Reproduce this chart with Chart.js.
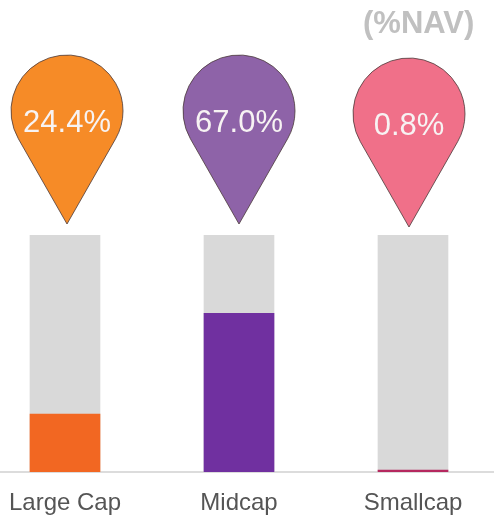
<!DOCTYPE html>
<html>
<head>
<meta charset="utf-8">
<script src="https://cdn.jsdelivr.net/npm/chart.js@4/dist/chart.umd.min.js"></script>
<style>
html,body{margin:0;padding:0;background:#fff;}
#wrap{position:relative;width:494px;height:517px;}
#title{position:absolute;left:363px;top:5px;font:bold 31px "Liberation Sans",Arial,sans-serif;color:#c0c0c0;}
</style>
</head>
<body>
<div id="wrap"><canvas id="c" width="494" height="517"></canvas><div id="title">(%NAV)</div></div>
<script>
const categories = ['Large Cap', 'Midcap', 'Smallcap'];
const values = [24.4, 67.0, 0.8];
const valueLabels = ['24.4%', '67.0%', '0.8%'];
const barColors = ['#F26722', '#7030A0', '#B5285F'];
const pinColors = ['#F68B27', '#8E63A8', '#F07089'];
const trackValue = 100;

const pinPlugin = {
  id: 'pins',
  afterDatasetsDraw(chart) {
    const ctx = chart.ctx;
    const xs = chart.scales.x;
    const top = chart.chartArea.top;
    const r = 56;
    const tipY = top - 11;
    const cy = top - 124;
    const d = tipY - cy;
    const phi = Math.acos(r / d);
    categories.forEach((c, i) => {
      const cx = xs.getPixelForValue(i) + (i === 0 ? 2 : (i === 2 ? -4 : 0));
      const dy = i === 2 ? 3 : 0;
      ctx.save();
      ctx.beginPath();
      ctx.arc(cx, cy + dy, r, Math.PI / 2 + phi, Math.PI / 2 - phi + 2 * Math.PI);
      ctx.lineTo(cx, tipY + dy);
      ctx.closePath();
      ctx.fillStyle = pinColors[i];
      ctx.fill();
      ctx.lineWidth = 0.8;
      ctx.strokeStyle = '#4a3a3a';
      ctx.stroke();
      ctx.fillStyle = '#f7f3f3';
      ctx.font = '31px "Liberation Sans", Arial, sans-serif';
      ctx.textAlign = 'center';
      ctx.textBaseline = 'middle';
      ctx.fillText(valueLabels[i], cx, cy + dy + 12);
      ctx.restore();
    });
  }
};

new Chart(document.getElementById('c'), {
  type: 'bar',
  data: {
    datasets: [
      {
        data: values.map((v, i) => ({x: i, y: v})),
        backgroundColor: barColors,
        barThickness: 70,
        grouped: false,
        order: 0
      },
      {
        data: values.map((v, i) => ({x: i, y: trackValue})),
        backgroundColor: '#D9D9D9',
        barThickness: 70,
        grouped: false,
        order: 1
      }
    ]
  },
  options: {
    responsive: false,
    animation: false,
    events: [],
    layout: {padding: {top: 235, left: 0, right: 0, bottom: 0}},
    plugins: {legend: {display: false}, tooltip: {enabled: false}},
    scales: {
      x: {
        type: 'linear',
        offset: false,
        bounds: 'ticks',
        min: -65 / 174,
        max: (494 - 65) / 174,
        afterBuildTicks(scale) { scale.ticks = categories.map((c, i) => ({value: i})); },
        afterFit(scale) { scale.height = 45; scale.paddingLeft = 0; scale.paddingRight = 0; },
        ticks: {
          autoSkip: false,
          maxRotation: 0,
          padding: 17,
          color: '#555',
          font: {family: '"Liberation Sans", Arial, sans-serif', size: 24},
          callback: (v) => categories[v]
        },
        grid: {display: false, drawTicks: false},
        border: {display: true, color: '#dcdcdc', width: 2}
      },
      y: {
        display: false,
        min: 0,
        max: 100
      }
    }
  },
  plugins: [pinPlugin]
});
</script>
</body>
</html>
